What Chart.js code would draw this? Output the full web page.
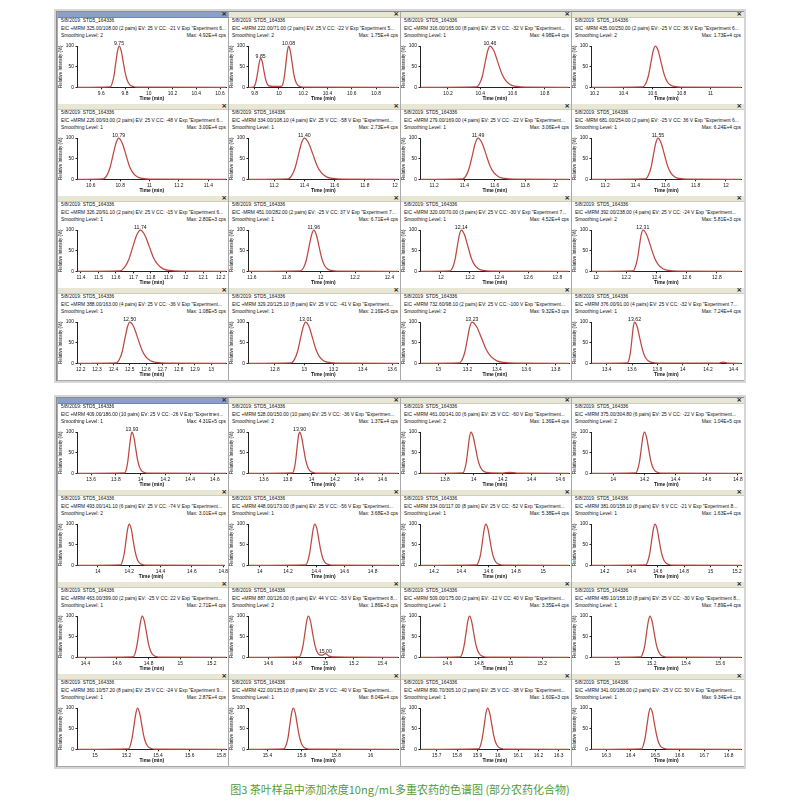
<!DOCTYPE html>
<html><head><meta charset="utf-8">
<script src="https://cdn.jsdelivr.net/npm/chart.js@4.4.1/dist/chart.umd.min.js"></script>
<style>
html,body{margin:0;padding:0;background:#fff;}
body{width:800px;height:809px;position:relative;overflow:hidden;font-family:"Liberation Sans",Arial,sans-serif;}
.block{position:absolute;border:1px solid #8c8c8c;box-shadow:0 0 0 2px #d6d6d6;background:#fff;}
.panel{position:absolute;box-sizing:border-box;border-left:1px solid #a9a9a9;border-bottom:1px solid #a9a9a9;overflow:hidden;background:#fff;}
.bar{position:absolute;left:0;top:0;right:0;height:5px;background:#e8e6d4;border-bottom:1px solid #cfcdbb}
.bar.sel{background:#8a9fc9;border-bottom-color:#6f84b0}
.bar span{position:absolute;right:2px;top:-3px;font:bold 7px "DejaVu Sans";color:#222;line-height:10px}
.ln{position:absolute;left:3px;right:3px;height:7px;line-height:7px;font-size:4.9px;color:#111;white-space:nowrap;overflow:hidden}
.ln .r{position:absolute;right:0;top:0;background:#fff;padding-left:2px}
canvas{position:absolute;left:0;top:26px}
.cap{position:absolute;left:0;width:800px;top:781px;text-align:center;font:11px "Noto Sans CJK SC";color:#519c3c}
</style>
</head><body>
<script>
// ---------- data ----------
const panelHeaders = [
 'EIC +MRM 325.00/108.00 (2 pairs) EV: 25 V CC: -21 V Exp "Experiment 6...',
 'EIC +MRM 222.00/71.00 (2 pairs) EV: 25 V CC: -22 V Exp "Experiment 5...',
 'EIC +MRM 316.00/165.00 (8 pairs) EV: 25 V CC: -32 V Exp "Experiment...',
 'EIC -MRM 435.00/250.00 (2 pairs) EV: -25 V CC: 36 V Exp "Experiment 6...',
 'EIC +MRM 226.00/93.00 (2 pairs) EV: 25 V CC: -48 V Exp "Experiment 6...',
 'EIC +MRM 334.00/108.10 (4 pairs) EV: 25 V CC: -58 V Exp "Experiment...',
 'EIC +MRM 279.00/169.00 (4 pairs) EV: 25 V CC: -22 V Exp "Experiment...',
 'EIC -MRM 681.00/254.00 (2 pairs) EV: -25 V CC: 36 V Exp "Experiment 6...',
 'EIC +MRM 326.20/91.10 (2 pairs) EV: 25 V CC: -15 V Exp "Experiment 6...',
 'EIC -MRM 451.00/282.00 (2 pairs) EV: -25 V CC: 37 V Exp "Experiment 7...',
 'EIC +MRM 320.00/70.00 (3 pairs) EV: 25 V CC: -30 V Exp "Experiment 7...',
 'EIC +MRM 392.00/238.00 (4 pairs) EV: 25 V CC: -24 V Exp "Experiment...',
 'EIC +MRM 388.00/163.00 (4 pairs) EV: 25 V CC: -36 V Exp "Experiment...',
 'EIC +MRM 329.20/125.10 (8 pairs) EV: 25 V CC: -41 V Exp "Experiment...',
 'EIC +MRM 732.60/98.10 (2 pairs) EV: 25 V CC: -100 V Exp "Experiment...',
 'EIC +MRM 376.00/91.00 (4 pairs) EV: 25 V CC: -32 V Exp "Experiment 7...',
 'EIC +MRM 409.00/186.00 (10 pairs) EV: 25 V CC: -26 V Exp "Experimen...',
 'EIC +MRM 528.00/150.00 (10 pairs) EV: 25 V CC: -36 V Exp "Experimen...',
 'EIC +MRM 461.00/141.00 (6 pairs) EV: 25 V CC: -60 V Exp "Experiment...',
 'EIC +MRM 375.00/304.80 (6 pairs) EV: 25 V CC: -22 V Exp "Experiment...',
 'EIC +MRM 493.00/141.10 (6 pairs) EV: 25 V CC: -74 V Exp "Experiment...',
 'EIC +MRM 448.00/173.00 (8 pairs) EV: 25 V CC: -56 V Exp "Experiment...',
 'EIC +MRM 334.00/117.00 (8 pairs) EV: 25 V CC: -52 V Exp "Experiment...',
 'EIC +MRM 381.00/158.10 (8 pairs) EV: 6 V CC: -21 V Exp "Experiment 8...',
 'EIC +MRM 463.00/399.00 (2 pairs) EV: -25 V CC: 22 V Exp "Experiment...',
 'EIC +MRM 887.00/126.00 (6 pairs) EV: 44 V CC: -53 V Exp "Experiment 8...',
 'EIC +MRM 509.00/175.00 (2 pairs) EV: -12 V CC: 40 V Exp "Experiment...',
 'EIC +MRM 489.10/158.10 (8 pairs) EV: 25 V CC: -30 V Exp "Experiment 8...',
 'EIC +MRM 360.10/57.20 (8 pairs) EV: 25 V CC: -24 V Exp "Experiment 9...',
 'EIC +MRM 422.00/135.10 (8 pairs) EV: 25 V CC: -40 V Exp "Experiment...',
 'EIC +MRM 890.70/305.10 (2 pairs) EV: 25 V CC: -38 V Exp "Experiment...',
 'EIC +MRM 341.00/186.00 (2 pairs) EV: -25 V CC: 50 V Exp "Experiment...'
];
const smoothingLevels = [2,2,1,2, 1,1,1,1, 1,1,1,2, 1,1,2,1, 1,2,2,2, 2,1,1,1, 1,2,1,1, 1,1,1,1];
const maxLabels = ['4.92E+4','1.75E+4','4.98E+4','1.73E+4','3.00E+4','2.73E+4','3.06E+4','6.24E+4',
 '2.80E+3','6.71E+4','4.52E+4','5.81E+3','1.08E+5','2.16E+5','9.32E+3','7.24E+4',
 '4.31E+5','1.37E+4','1.36E+4','1.04E+5','3.01E+4','3.68E+3','5.38E+4','1.63E+4',
 '2.71E+4','1.86E+3','3.35E+4','7.89E+4','2.87E+4','8.04E+4','1.60E+3','9.34E+4'];
const xRanges = [[9.40,10.65],[9.75,10.98],[10.03,10.95],[10.18,11.21],[10.51,11.52],[11.03,12.02],[11.11,12.09],[11.11,12.10],
 [11.38,12.23],[11.58,12.45],[11.86,12.88],[11.97,12.96],[12.18,13.09],[12.62,13.64],[12.88,13.89],[13.28,14.46],
 [13.49,14.69],[13.47,14.73],[13.63,14.66],[13.86,14.82],[13.87,14.81],[13.92,14.98],[14.10,15.19],[14.10,15.23],
 [14.35,15.29],[14.46,15.51],[14.43,15.37],[14.85,15.72],[14.89,15.83],[15.29,16.16],[15.62,16.35],[16.24,16.85]];
const xTickValues = [
 [9.6,9.8,10,10.2,10.4,10.6],[9.8,10,10.2,10.4,10.6,10.8],[10.2,10.4,10.6,10.8],[10.2,10.4,10.6,10.8,11],
 [10.6,10.8,11,11.2,11.4],[11.2,11.4,11.6,11.8,12],[11.2,11.4,11.6,11.8,12],[11.2,11.4,11.6,11.8,12],
 [11.4,11.5,11.6,11.7,11.8,11.9,12,12.1,12.2],[11.6,11.8,12,12.2,12.4],[12,12.2,12.4,12.6,12.8],[12,12.2,12.4,12.6,12.8],
 [12.2,12.3,12.4,12.5,12.6,12.7,12.8,12.9,13],[12.8,13,13.2,13.4,13.6],[13,13.2,13.4,13.6,13.8],[13.4,13.6,13.8,14,14.2,14.4],
 [13.6,13.8,14,14.2,14.4,14.6],[13.6,13.8,14,14.2,14.4,14.6],[13.8,14,14.2,14.4,14.6],[14,14.2,14.4,14.6,14.8],
 [14,14.2,14.4,14.6,14.8],[14,14.2,14.4,14.6,14.8],[14.2,14.4,14.6,14.8,15],[14.2,14.4,14.6,14.8,15,15.2],
 [14.4,14.6,14.8,15,15.2],[14.6,14.8,15,15.2,15.4],[14.6,14.8,15,15.2],[15,15.2,15.4,15.6],
 [15,15.2,15.4,15.6,15.8],[15.4,15.6,15.8,16],[15.7,15.8,15.9,16,16.1,16.2,16.3],[16.3,16.4,16.5,16.6,16.7,16.8]];
const yTickValues = [0,50,100];
// labelled peaks: [retention time, relative intensity]
const peakLabels = [
 [[9.75,100]],[[9.85,70],[10.08,100]],[[10.46,100]],[],
 [[10.79,100]],[[11.40,100]],[[11.49,100]],[[11.55,100]],
 [[11.74,100]],[[11.96,100]],[[12.14,100]],[[12.31,100]],
 [[12.50,100]],[[13.01,100]],[[13.23,100]],[[13.62,100]],
 [[13.93,100]],[[13.90,100]],[],[],
 [],[],[],[],
 [],[[15.00,9]],[],[],
 [],[],[],[]];
// chromatogram traces: [time (min), relative intensity (%)]
const trace01=[[9.40,0],[9.674,1],[9.691,9],[9.707,28],[9.723,61],[9.737,88],[9.75,100],[9.768,88],[9.785,61],[9.803,33],[9.82,16],[9.841,6],[9.869,2],[9.908,0.5],[10.65,0]];
const trace02=[[9.75,0],[9.791,0.7],[9.804,6],[9.816,20],[9.829,43],[9.84,62],[9.85,70],[9.863,62],[9.875,43],[9.888,23],[9.90,11],[9.915,4],[9.95,2],[9.99,2],[10.021,2],[10.034,9],[10.046,28],[10.059,61],[10.07,88],[10.08,100],[10.094,88],[10.108,61],[10.122,33],[10.136,16],[10.153,6],[10.175,2],[10.206,0.5],[10.98,0]];
const trace03=[[10.03,0],[10.379,1],[10.396,9],[10.414,28],[10.431,61],[10.446,88],[10.46,100],[10.485,88],[10.509,61],[10.534,33],[10.558,16],[10.587,6],[10.627,2],[10.68,0.5],[10.95,0]];
const trace04=[[10.18,0],[10.536,1],[10.554,9],[10.572,28],[10.59,61],[10.605,88],[10.62,100],[10.64,88],[10.659,61],[10.679,33],[10.698,16],[10.721,6],[10.753,2],[10.796,0.5],[11.21,0]];
const trace05=[[10.51,0],[10.686,1],[10.709,9],[10.731,28],[10.753,61],[10.772,88],[10.79,100],[10.814,88],[10.838,61],[10.862,33],[10.886,16],[10.915,6],[10.953,2],[11.006,0.5],[11.52,0]];
const trace06=[[11.03,0],[11.294,1],[11.316,9],[11.339,28],[11.362,61],[11.381,88],[11.40,100],[11.428,88],[11.456,61],[11.484,33],[11.512,16],[11.546,6],[11.59,2],[11.652,0.5],[12.02,0]];
const trace07=[[11.11,0],[11.389,1],[11.411,9],[11.432,28],[11.454,61],[11.472,88],[11.49,100],[11.516,88],[11.542,61],[11.568,33],[11.594,16],[11.625,6],[11.667,2],[11.724,0.5],[12.09,0]];
const trace08=[[11.11,0],[11.469,1],[11.486,9],[11.504,28],[11.521,61],[11.536,88],[11.55,100],[11.571,88],[11.592,61],[11.613,33],[11.634,16],[11.659,6],[11.693,2],[11.739,0.5],[12.10,0]];
const trace09=[[11.38,0],[11.622,1],[11.648,9],[11.673,28],[11.698,61],[11.719,88],[11.74,100],[11.765,88],[11.79,61],[11.815,33],[11.84,16],[11.87,6],[11.91,2],[11.965,0.5],[12.23,0]];
const trace10=[[11.58,0],[11.884,1],[11.901,9],[11.917,28],[11.933,61],[11.947,88],[11.96,100],[11.975,88],[11.99,61],[12.005,33],[12.02,16],[12.038,6],[12.062,2],[12.095,0.5],[12.45,0]];
const trace11=[[11.86,0],[12.064,1],[12.081,9],[12.097,28],[12.113,61],[12.127,88],[12.14,100],[12.163,88],[12.185,61],[12.208,33],[12.23,16],[12.257,6],[12.293,2],[12.343,0.5],[12.88,0]];
const trace12=[[11.97,0],[12.246,1],[12.259,9],[12.273,28],[12.287,61],[12.299,88],[12.31,100],[12.336,88],[12.361,61],[12.387,33],[12.412,16],[12.443,6],[12.483,2],[12.54,0.5],[12.96,0]];
const trace13=[[12.18,0],[12.419,1],[12.436,9],[12.454,28],[12.471,61],[12.486,88],[12.50,100],[12.525,88],[12.549,61],[12.574,33],[12.598,16],[12.627,6],[12.667,2],[12.72,0.5],[13.09,0]];
const trace14=[[12.62,0],[12.912,1],[12.933,9],[12.954,28],[12.975,61],[12.993,88],[13.01,100],[13.034,88],[13.057,61],[13.081,33],[13.104,16],[13.132,6],[13.17,2],[13.222,0.5],[13.64,0]];
const trace15=[[12.88,0],[13.146,1],[13.164,9],[13.182,28],[13.20,61],[13.215,88],[13.23,100],[13.263,88],[13.295,61],[13.328,33],[13.36,16],[13.399,6],[13.451,2],[13.523,0.5],[13.89,0]];
const trace16=[[13.28,0],[13.564,1],[13.576,9],[13.588,28],[13.60,61],[13.61,88],[13.62,100],[13.641,88],[13.661,61],[13.682,33],[13.702,16],[13.727,6],[13.759,2],[13.805,0.5],[14.28,0.3],[14.32,3],[14.36,0.3],[14.46,0]];
const trace17=[[13.49,0],[13.871,1],[13.884,9],[13.896,28],[13.909,61],[13.92,88],[13.93,100],[13.945,88],[13.96,61],[13.975,33],[13.99,16],[14.008,6],[14.032,2],[14.065,0.5],[14.69,0]];
const trace18=[[13.47,0],[13.841,1],[13.854,9],[13.866,28],[13.879,61],[13.89,88],[13.90,100],[13.917,88],[13.934,61],[13.951,33],[13.968,16],[13.988,6],[14.016,2],[14.053,0.5],[14.73,0]];
const trace19=[[13.63,0],[13.924,1],[13.936,9],[13.948,28],[13.96,61],[13.97,88],[13.98,100],[13.996,88],[14.012,61],[14.028,33],[14.044,16],[14.063,6],[14.089,2],[14.124,0.8],[14.20,0.6],[14.25,2.5],[14.30,0.4],[14.66,0]];
const trace20=[[13.86,0],[14.144,1],[14.156,9],[14.168,28],[14.18,61],[14.19,88],[14.20,100],[14.213,88],[14.226,61],[14.239,33],[14.252,16],[14.268,6],[14.288,2],[14.317,0.5],[14.82,0]];
const trace21=[[13.87,0],[14.144,1],[14.156,9],[14.168,28],[14.18,61],[14.19,88],[14.20,100],[14.213,88],[14.225,61],[14.238,33],[14.25,16],[14.265,6],[14.285,2],[14.313,0.5],[14.81,0]];
const trace22=[[13.92,0],[14.326,1],[14.339,9],[14.353,28],[14.367,61],[14.379,88],[14.39,100],[14.405,88],[14.419,61],[14.434,33],[14.448,16],[14.465,6],[14.489,2],[14.52,0.5],[14.98,0]];
const trace23=[[14.10,0],[14.513,1],[14.527,9],[14.542,28],[14.556,61],[14.568,88],[14.58,100],[14.595,88],[14.61,61],[14.625,33],[14.64,16],[14.658,6],[14.682,2],[14.715,0.5],[15.19,0]];
const trace24=[[14.10,0],[14.51,1],[14.525,9],[14.54,28],[14.555,61],[14.568,88],[14.58,100],[14.596,88],[14.611,61],[14.627,33],[14.642,16],[14.661,6],[14.685,2],[14.72,0.5],[15.23,0]];
const trace25=[[14.35,0],[14.701,1],[14.714,9],[14.726,28],[14.739,61],[14.75,88],[14.76,100],[14.773,88],[14.786,61],[14.799,33],[14.812,16],[14.828,6],[14.848,2],[14.877,0.5],[15.29,0]];
const trace26=[[14.46,0],[14.816,1],[14.829,9],[14.843,28],[14.857,61],[14.869,88],[14.88,100],[14.895,88],[14.909,61],[14.924,33],[14.938,16],[14.955,7],[14.975,5],[15.00,9],[15.025,3],[15.06,0.8],[15.51,0]];
const trace27=[[14.43,0],[14.681,1],[14.694,9],[14.706,28],[14.719,61],[14.73,88],[14.74,100],[14.753,88],[14.766,61],[14.779,33],[14.792,16],[14.808,6],[14.828,2],[14.857,0.5],[15.37,0]];
const trace28=[[14.85,0],[15.137,1],[15.148,9],[15.16,28],[15.171,61],[15.181,88],[15.19,100],[15.202,88],[15.214,61],[15.226,33],[15.238,16],[15.252,6],[15.272,2],[15.298,0.5],[15.72,0]];
const trace29=[[14.89,0],[15.211,1],[15.224,9],[15.236,28],[15.249,61],[15.26,88],[15.27,100],[15.283,88],[15.296,61],[15.309,33],[15.322,16],[15.338,6],[15.358,2],[15.387,0.5],[15.83,0]];
const trace30=[[15.29,0],[15.497,1],[15.508,9],[15.52,28],[15.531,61],[15.541,88],[15.55,100],[15.562,88],[15.573,61],[15.585,33],[15.596,16],[15.61,6],[15.628,2],[15.654,0.5],[16.16,0]];
const trace31=[[15.62,0],[15.905,1],[15.915,9],[15.924,28],[15.934,61],[15.942,88],[15.95,100],[15.96,88],[15.97,61],[15.98,33],[15.99,16],[16.002,6],[16.018,2],[16.04,0.5],[16.35,0]];
const trace32=[[16.24,0],[16.444,1],[16.451,9],[16.459,28],[16.467,61],[16.474,88],[16.48,100],[16.489,88],[16.497,61],[16.506,33],[16.514,16],[16.524,6],[16.538,2],[16.557,0.5],[16.85,0]];
const traces=[trace01,trace02,trace03,trace04,trace05,trace06,trace07,trace08,trace09,trace10,trace11,trace12,trace13,trace14,trace15,trace16,
 trace17,trace18,trace19,trace20,trace21,trace22,trace23,trace24,trace25,trace26,trace27,trace28,trace29,trace30,trace31,trace32];
const sampleName = '5/8/2019: STD5_164336';
const captionText = '图3 茶叶样品中添加浓度10ng/mL多重农药的色谱图 (部分农药化合物)';

// ---------- layout ----------
const blockTops=[12,398];
const colLefts=[57,228,400,571];
const panelH=92;

const peakLabelPlugin={
  id:'peakLabels',
  afterDatasetsDraw(chart){
    const labs=chart.options.plugins.peakLabels.items||[];
    const ctx=chart.ctx; ctx.save();
    ctx.font='5.2px "Liberation Sans", Arial, sans-serif';
    ctx.fillStyle='#111'; ctx.textAlign='center'; ctx.textBaseline='bottom';
    labs.forEach(([t,v])=>{
      const x=chart.scales.x.getPixelForValue(t), y=chart.scales.y.getPixelForValue(v);
      ctx.fillText(t.toFixed(2),x,y+0.3);
    });
    ctx.restore();
  }
};

blockTops.forEach(bt=>{
  const b=document.createElement('div'); b.className='block';
  b.style.left='56px'; b.style.top=(bt-1)+'px'; b.style.width=(743-57)+'px'; b.style.height=(4*panelH)+'px';
  document.body.appendChild(b);
});

for(let i=0;i<32;i++){
  const blk=Math.floor(i/16), r=Math.floor((i%16)/4), c=i%4;
  const left=colLefts[c], top=blockTops[blk]+r*panelH;
  const w=(c===3?743:colLefts[c+1])-left+1;
  const p=document.createElement('div'); p.className='panel';
  p.style.left=left+'px'; p.style.top=top+'px'; p.style.width=w+'px'; p.style.height=(panelH+1)+'px';
  const bar=document.createElement('div'); bar.className='bar'+((i%16)===0?' sel':'');
  bar.innerHTML='<span>×</span>'; p.appendChild(bar);
  const l1=document.createElement('div'); l1.className='ln'; l1.style.top='5.2px'; l1.textContent=sampleName; p.appendChild(l1);
  const l2=document.createElement('div'); l2.className='ln'; l2.style.top='13.2px'; l2.textContent=panelHeaders[i]; p.appendChild(l2);
  const l3=document.createElement('div'); l3.className='ln'; l3.style.top='20.2px';
  l3.innerHTML='Smoothing Level: '+smoothingLevels[i]+'<span class="r">Max: '+maxLabels[i]+' cps</span>'; p.appendChild(l3);
  const cv=document.createElement('canvas'); cv.width=w-1; cv.height=66; cv.style.width=(w-1)+'px'; cv.style.height='66px';
  p.appendChild(cv);
  document.body.appendChild(p);
  const ticksX=xTickValues[i];
  new Chart(cv.getContext('2d'),{
    type:'line',
    data:{datasets:[{data:traces[i].map(pt=>({x:pt[0],y:pt[1]})),borderColor:'#bd4842',borderWidth:1.25,
      pointRadius:0,cubicInterpolationMode:'monotone',fill:false,clip:false}]},
    options:{
      animation:false,responsive:false,events:[],devicePixelRatio:1,
      layout:{padding:{top:8,right:3,left:0,bottom:0}},
      plugins:{legend:{display:false},tooltip:{enabled:false},peakLabels:{items:peakLabels[i]}},
      scales:{
        x:{type:'linear',min:xRanges[i][0],max:xRanges[i][1],
          afterBuildTicks:s=>{s.ticks=ticksX.map(v=>({value:v}));},
          afterFit:s=>{s.height=16.7;},
          ticks:{autoSkip:false,maxRotation:0,minRotation:0,padding:1,color:'#111',
            font:{family:'Liberation Sans',size:4.9},callback:v=>String(+(+v).toFixed(2))},
          grid:{display:true,drawOnChartArea:false,tickLength:2,color:'#222'},
          border:{display:true,color:'#222',width:1},
          title:{display:true,text:'Time (min)',color:'#111',font:{family:'Liberation Sans',size:4.9,weight:'bold',lineHeight:1.2},padding:{top:0,bottom:2.4}}
        },
        y:{min:0,max:100,
          afterBuildTicks:s=>{s.ticks=yTickValues.map(v=>({value:v}));},
          afterFit:s=>{s.width=19.5;},
          ticks:{padding:1.5,color:'#111',font:{family:'Liberation Sans',size:4.9}},
          grid:{display:true,drawOnChartArea:false,tickLength:2,color:'#222'},
          border:{display:true,color:'#222',width:1},
          title:{display:true,text:'Relative Intensity (%)',color:'#111',font:{family:'Liberation Sans',size:4.5,lineHeight:1.2},padding:{top:0.3,bottom:0}}
        }
      }
    },
    plugins:[peakLabelPlugin]
  });
}
const cap=document.createElement('div'); cap.className='cap'; cap.textContent=captionText; document.body.appendChild(cap);
</script>
</body></html>
